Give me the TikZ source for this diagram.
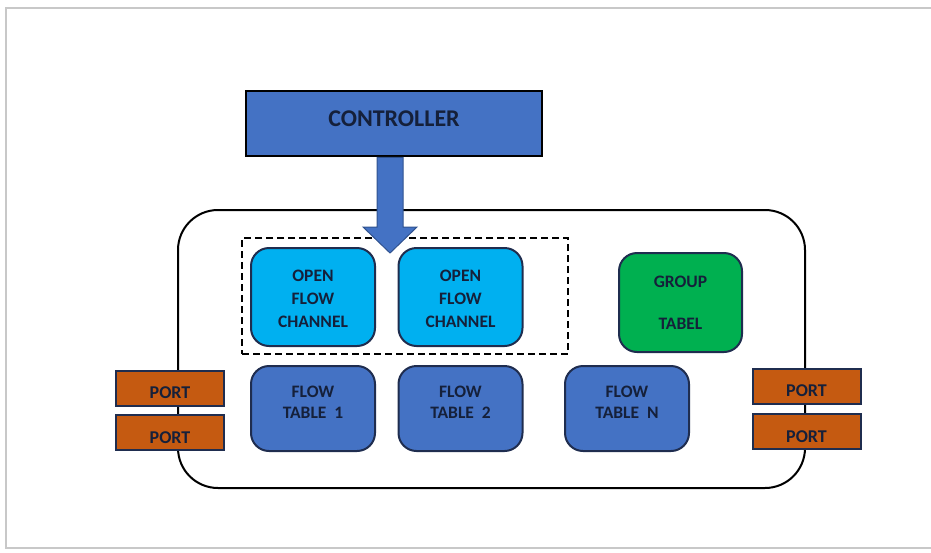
\documentclass[tikz,border=0pt]{standalone}
\usepackage{fontspec}
\setmainfont{Carlito}
\usetikzlibrary{calc}
\definecolor{ctrlblue}{HTML}{4472C4}
\definecolor{arrowedge}{HTML}{2F528F}
\definecolor{ofcblue}{HTML}{00B0F0}
\definecolor{grpgreen}{HTML}{00B050}
\definecolor{portorange}{HTML}{C55A11}
\definecolor{navy}{HTML}{1F2D4F}
\definecolor{txt}{HTML}{15203A}
\definecolor{framegray}{HTML}{C8C8C8}
\newcommand{\liftlines}[2]{\raisebox{#1}[\height][\depth]{\begin{tabular}{@{}c@{}}#2\end{tabular}}}
\newcommand{\liftone}[2]{\raisebox{#1}[\height][\depth]{#2}}
\begin{document}
\begin{tikzpicture}[x=1pt,y=-1pt,
  box/.style={draw=navy, line width=2pt, rounded corners=18pt, inner sep=0pt,
    align=center, text=txt, font=\bfseries\fontsize{17.5}{23}\selectfont},
  ofc/.style={box, fill=ofcblue, minimum width=124pt, minimum height=98pt},
  grp/.style={box, fill=grpgreen, minimum width=123pt, minimum height=99pt},
  ftab/.style={box, fill=ctrlblue, minimum width=124pt, minimum height=85pt,
    font=\bfseries\fontsize{17.5}{21}\selectfont},
  portbox/.style={draw=navy, line width=2pt, fill=portorange, inner sep=0pt,
    minimum width=108pt, minimum height=35pt, text=txt,
    font=\bfseries\fontsize{18}{20}\selectfont},
  ctrlbox/.style={draw=black, line width=2.5pt, fill=ctrlblue, inner sep=0pt,
    minimum width=296pt, minimum height=65pt, text=txt,
    font=\bfseries\fontsize{24}{26}\selectfont},
  outer/.style={draw=black, line width=2pt, rounded corners=40pt},
  dashbox/.style={draw=black, line width=2pt, dash pattern=on 7pt off 4pt},
  framebox/.style={draw=framegray, line width=1.5pt}
]
\useasboundingbox (0,0) rectangle (931,552);
% screenshot frame
\draw[framebox] (931,8) -- (6,8) -- (6,548) -- (931,548);

% switch body
\draw[outer] (178,210) rectangle (805,488);

% controller
\node[ctrlbox] (ctrl) at (394,123.5) {\liftone{5pt}{CONTROLLER}};

% dashed group of channels
\node[dashbox, minimum width=326pt, minimum height=116pt, inner sep=0pt] (chgrp) at (405,296) {};

% open flow channels
\node[ofc] (ofc1) at (313,297) {\liftlines{-3pt}{OPEN\\FLOW\\CHANNEL}};
\node[ofc] (ofc2) at (460.5,297) {\liftlines{-3pt}{OPEN\\FLOW\\CHANNEL}};

% group table
\node[grp] (gt) at (680.5,302.5) {GROUP\\[19pt]TABEL};

% flow tables
\node[ftab] (ft1) at (313,408.5) {\liftlines{4.5pt}{FLOW\\TABLE\ \ 1}};
\node[ftab] (ft2) at (460.5,408.5) {\liftlines{4.5pt}{FLOW\\TABLE\ \ 2}};
\node[ftab] (ftn) at (627,408.5) {\liftlines{4.5pt}{FLOW\\TABLE\ \ N}};

% ports
\node[portbox] (pl1) at (170,388) {\liftone{-5pt}{PORT}};
\node[portbox] (pl2) at (170,432.5) {\liftone{-5pt}{PORT}};
\node[portbox] (pr1) at (806.5,386) {\liftone{-5pt}{PORT}};
\node[portbox] (pr2) at (806.5,431.5) {\liftone{-5pt}{PORT}};

% big arrow from controller into channel group
\coordinate (tip) at (390,253);
\draw[fill=ctrlblue, draw=arrowedge, line width=1pt, line join=miter]
  ($(ctrl.south)+(-17,0)$) -- ($(ctrl.south)+(9,0)$)
  -- ($(tip)+(13,-26)$) -- ($(tip)+(27,-26)$) -- (tip)
  -- ($(tip)+(-27,-26)$) -- ($(tip)+(-13,-26)$) -- cycle;
\end{tikzpicture}
\end{document}
